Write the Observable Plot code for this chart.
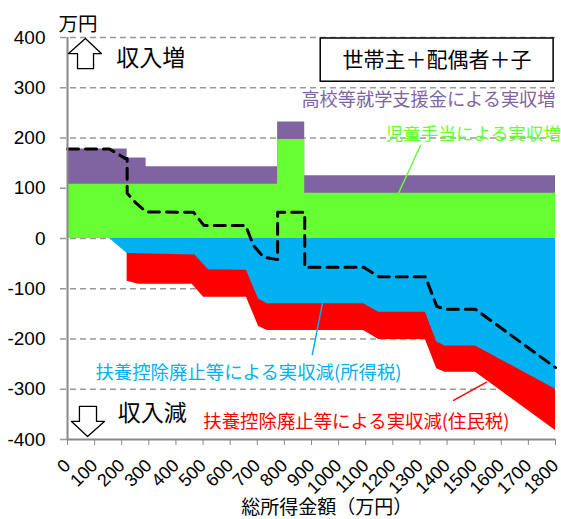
<!DOCTYPE html>
<html><head><meta charset="utf-8">
<style>html,body{margin:0;padding:0;background:#fff}svg{display:block}</style>
<script src="https://cdn.jsdelivr.net/npm/d3@7"></script>
<script src="https://cdn.jsdelivr.net/npm/@observablehq/plot@0.6"></script>
</head><body><div id="c"></div>
<script>
const xTicks = d3.range(0, 1801, 100);
const yTicks = [400,300,200,100,0,-100,-200,-300,-400];

const purpleX = [0,220,220,290,290,775,775,875,875,1800];
const purpleTop = [178,178,160,160,143,143,232,232,125,125];
const greenX = [0,775,775,875,875,1800];
const greenTop = [108,108,197,197,90,90];
const blueX = [155,220,470,520,660,705,737,1092,1148,1320,1362,1392,1505,1800];
const blueLow = [0,-30,-33,-62,-63,-121,-130,-130,-147,-147,-206,-214,-214,-300];
const redX = [220,262,460,502,660,705,737,1092,1148,1320,1362,1392,1505,1800];
const redLow = [-85,-91,-91,-117,-117,-175,-183,-183,-201,-201,-259,-266,-266,-382];
const netX = [0,155,214,220,220,250,290,465,503,657,686,723,775,775,875,875,1092,1148,1320,1362,1392,1505,1800];
const netY = [178,178,159,159,90,72,53,52,26,26,-14,-37,-42,52,52,-57,-57,-76,-76,-135,-141,-141,-257];

const pts = (xs, ys) => xs.map((x,i)=>({x, y:ys[i]}));
const upArrow = pts([66,125,96,96,37,37,4,66],[398,368,368,338,338,368,368,398]);
const downArrow = pts([44,107,107,136,74,15,44,44],[-334,-334,-364,-364,-394,-364,-364,-334]);
const boxX = [934,1793], boxY = [398,312];

const jp = '"Noto Sans CJK JP","Noto Sans",sans-serif';
const label = (text,x,y,size,fill,anchor="middle") =>
  Plot.text([text],{x:()=>x,y:()=>y,text:d=>d,fontSize:size,fill,textAnchor:anchor,fontFamily:jp,stroke:null});
const leader = (xs,ys,stroke) => Plot.line(pts(xs,ys),{x:"x",y:"y",stroke,strokeWidth:1.5});

const chart = Plot.plot({
  width:561,height:519,marginLeft:67,marginRight:6,marginTop:37,marginBottom:80,
  style:{fontFamily:'"Liberation Sans",sans-serif',background:"#fff",overflow:"hidden"},
  x:{domain:[0,1800],axis:null},
  y:{domain:[-400,400],axis:null},
  marks:[
    Plot.ruleY(yTicks.slice(0,-1),{x1:-26,x2:1800,stroke:"#999",strokeWidth:1.5,strokeDasharray:"6,4"}),
    Plot.ruleY([-400],{x1:-26,x2:0,stroke:"#999",strokeWidth:1.5}),
    Plot.areaY(pts(purpleX,purpleTop),{x:"x",y1:0,y2:"y",fill:"#8064a2"}),
    Plot.areaY(pts(greenX,greenTop),{x:"x",y1:0,y2:"y",fill:"#66ff33"}),
    Plot.areaY(pts(redX,redLow),{x:"x",y1:0,y2:"y",fill:"#ff0000"}),
    Plot.areaY(pts(blueX,blueLow),{x:"x",y1:0,y2:"y",fill:"#00b0f0"}),
    Plot.line(pts(netX,netY),{x:"x",y:"y",stroke:"#000",strokeWidth:3,strokeDasharray:"11,7"}),
    Plot.ruleX([0],{y1:-400,y2:400,stroke:"#888",strokeWidth:2}),
    Plot.ruleY([-400],{x1:0,x2:1800,stroke:"#888",strokeWidth:2}),
    Plot.axisY({ticks:yTicks,tickSize:0,tickPadding:22,fontSize:19,color:"#000",label:null,anchor:"left",tickFormat:d=>String(d)}),
    Plot.axisX({ticks:xTicks,tickSize:6,tickPadding:17,tickRotate:-45,fontSize:18,stroke:"#888",fill:"#000",label:null,anchor:"bottom",tickFormat:d=>String(d)}),
    Plot.line(upArrow,{x:"x",y:"y",stroke:"#000",strokeWidth:1.3,fill:"#fff"}),
    Plot.line(downArrow,{x:"x",y:"y",stroke:"#000",strokeWidth:1.3,fill:"#fff"}),
    Plot.rect([{}],{x1:()=>boxX[0],x2:()=>boxX[1],y1:()=>boxY[0],y2:()=>boxY[1],fill:"#fff",stroke:"#000",strokeWidth:1.5}),
    leader([1221,1302],[90,185],"#66ff33"),
    leader([940,903],[-130,-231],"#00b0f0"),
    leader([1546,1424],[-286,-322],"#ff0000"),
    label("万円",-33,426,19.5,"#000","start"),
    label("収入増",180,358,23,"#000","start"),
    label("収入減",185,-348,23,"#000","start"),
    label("世帯主＋配偶者＋子",1363,354,21,"#000"),
    label("高校等就学支援金による実収増",1800,275,18.2,"#8064a2","end"),
    label("児童手当による実収増",1497,207,17.6,"#66ff33"),
    label("扶養控除廃止等による実収減(所得税)",103,-267,18.4,"#00b0f0","start"),
    label("扶養控除廃止等による実収減(住民税)",501,-366,18.4,"#ff0000","start"),
    label("総所得金額（万円）",956,-536,19,"#000"),
  ]
});
document.getElementById("c").append(chart);
</script></body></html>
